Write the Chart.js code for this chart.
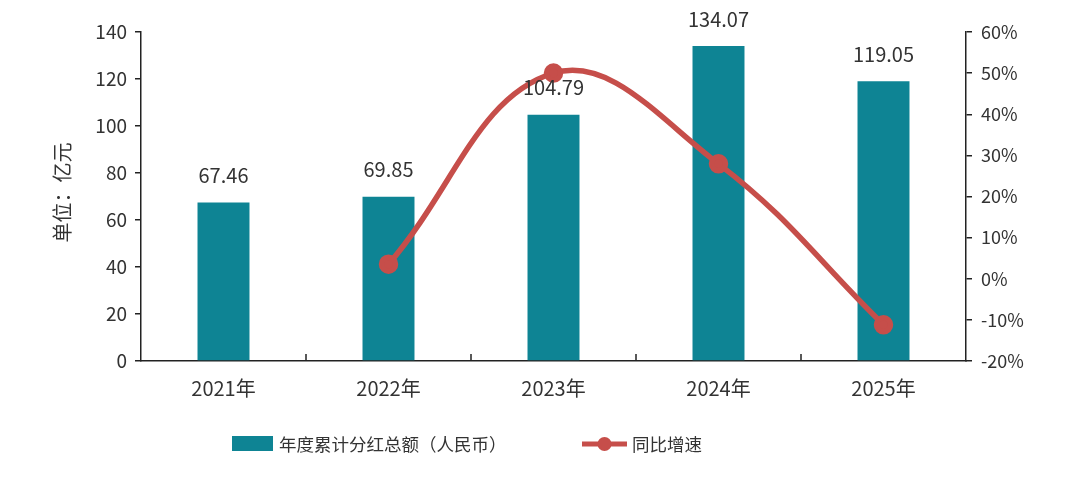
<!DOCTYPE html>
<html>
<head>
<meta charset="utf-8">
<script src="https://cdn.jsdelivr.net/npm/chart.js@4/dist/chart.umd.min.js"></script>
<style>
  html, body { margin: 0; padding: 0; background: #fff; }
  #wrap { position: relative; width: 1080px; height: 477px; }
</style>
</head>
<body>
<div id="wrap"><canvas id="chart" width="1080" height="477"></canvas></div>
<script>
// 数据
const years = ['2021年', '2022年', '2023年', '2024年', '2025年'];
const dividend = [67.46, 69.85, 104.79, 134.07, 119.05];
const growth = [null, 3.54, 50.02, 27.94, -11.20];
const leftTicks = [0, 20, 40, 60, 80, 100, 120, 140];
const rightTicks = [-20, -10, 0, 10, 20, 30, 40, 50, 60];

const BAR_COLOR = '#0e8494';
const LINE_COLOR = '#c64e4a';
const FONT = "'Noto Sans CJK SC', 'Noto Sans', sans-serif";

// 柱顶数值 + x轴内向刻度 + 纵轴标题 + 图例
const extras = {
    id: 'extras',
    afterDatasetsDraw(chart) {
        const ctx = chart.ctx;
        const x = chart.scales.x;
        const area = chart.chartArea;

        // x轴分隔刻度（向上）
        ctx.save();
        ctx.strokeStyle = '#222';
        ctx.lineWidth = 1.5;
        for (let i = 0; i < years.length - 1; i++) {
            const px = (x.getPixelForValue(i) + x.getPixelForValue(i + 1)) / 2;
            ctx.beginPath();
            ctx.moveTo(px, area.bottom);
            ctx.lineTo(px, area.bottom - 7);
            ctx.stroke();
        }
        ctx.restore();

        // 柱顶数值
        const meta = chart.getDatasetMeta(0);
        ctx.save();
        ctx.font = '20px ' + FONT;
        ctx.fillStyle = '#333';
        ctx.textAlign = 'center';
        ctx.textBaseline = 'middle';
        meta.data.forEach((bar, i) => {
            ctx.fillText(dividend[i].toFixed(2), bar.x, bar.y - 27);
        });
        ctx.restore();

        // 纵轴标题
        ctx.save();
        ctx.translate(62, (area.top + area.bottom) / 2 - 4);
        ctx.rotate(-Math.PI / 2);
        ctx.font = '20px ' + FONT;
        ctx.fillStyle = '#333';
        ctx.textAlign = 'center';
        ctx.textBaseline = 'middle';
        ctx.fillText('单位：亿元', 0, 0);
        ctx.restore();

        // 图例
        ctx.save();
        ctx.fillStyle = BAR_COLOR;
        ctx.fillRect(232, 436, 41, 15);
        ctx.font = '17.5px ' + FONT;
        ctx.fillStyle = '#333';
        ctx.textBaseline = 'middle';
        ctx.fillText('年度累计分红总额（人民币）', 279, 444);

        ctx.strokeStyle = LINE_COLOR;
        ctx.lineWidth = 5;
        ctx.beginPath();
        ctx.moveTo(582, 444);
        ctx.lineTo(627, 444);
        ctx.stroke();
        ctx.fillStyle = LINE_COLOR;
        ctx.beginPath();
        ctx.arc(604.5, 444, 7, 0, Math.PI * 2);
        ctx.fill();
        ctx.fillStyle = '#333';
        ctx.fillText('同比增速', 632, 444);
        ctx.restore();
    }
};

new Chart(document.getElementById('chart').getContext('2d'), {
    type: 'bar',
    data: {
        labels: years,
        datasets: [
            {
                type: 'bar',
                label: '年度累计分红总额（人民币）',
                data: dividend,
                backgroundColor: BAR_COLOR,
                barPercentage: 0.63,
                categoryPercentage: 0.5,
                yAxisID: 'y',
                order: 2
            },
            {
                type: 'line',
                label: '同比增速',
                data: growth,
                borderColor: LINE_COLOR,
                backgroundColor: LINE_COLOR,
                borderWidth: 5.5,
                pointRadius: 7,
                pointHoverRadius: 7,
                tension: 0.4,
                spanGaps: false,
                yAxisID: 'y1',
                order: 1
            }
        ]
    },
    options: {
        responsive: false,
        animation: false,
        events: [],
        layout: { padding: { left: 0, right: 0, top: 32, bottom: 0 } },
        plugins: {
            legend: { display: false },
            tooltip: { enabled: false }
        },
        scales: {
            x: {
                grid: { display: false, drawTicks: false },
                border: { color: '#222', width: 1.5 },
                ticks: {
                    color: '#333',
                    padding: 15,
                    font: { family: FONT, size: 20 }
                },
                afterFit(scale) { scale.height = 116; }
            },
            y: {
                position: 'left',
                min: 0,
                max: 140,
                afterBuildTicks(scale) { scale.ticks = leftTicks.map(v => ({ value: v })); },
                grid: { drawOnChartArea: false, drawTicks: true, tickLength: 6, color: '#222', lineWidth: 1.5 },
                border: { color: '#222', width: 1.5 },
                ticks: {
                    color: '#333',
                    padding: 8,
                    font: { family: FONT, size: 19 }
                },
                afterFit(scale) { scale.width = 141; }
            },
            y1: {
                position: 'right',
                min: -20,
                max: 60,
                afterBuildTicks(scale) { scale.ticks = rightTicks.map(v => ({ value: v })); },
                grid: { drawOnChartArea: false, drawTicks: true, tickLength: 6, color: '#222', lineWidth: 1.5 },
                border: { color: '#222', width: 1.5 },
                ticks: {
                    color: '#333',
                    padding: 9,
                    font: { family: FONT, size: 18 },
                    callback: v => v + '%'
                },
                afterFit(scale) { scale.width = 114; }
            }
        }
    },
    plugins: [extras]
});
</script>
</body>
</html>
